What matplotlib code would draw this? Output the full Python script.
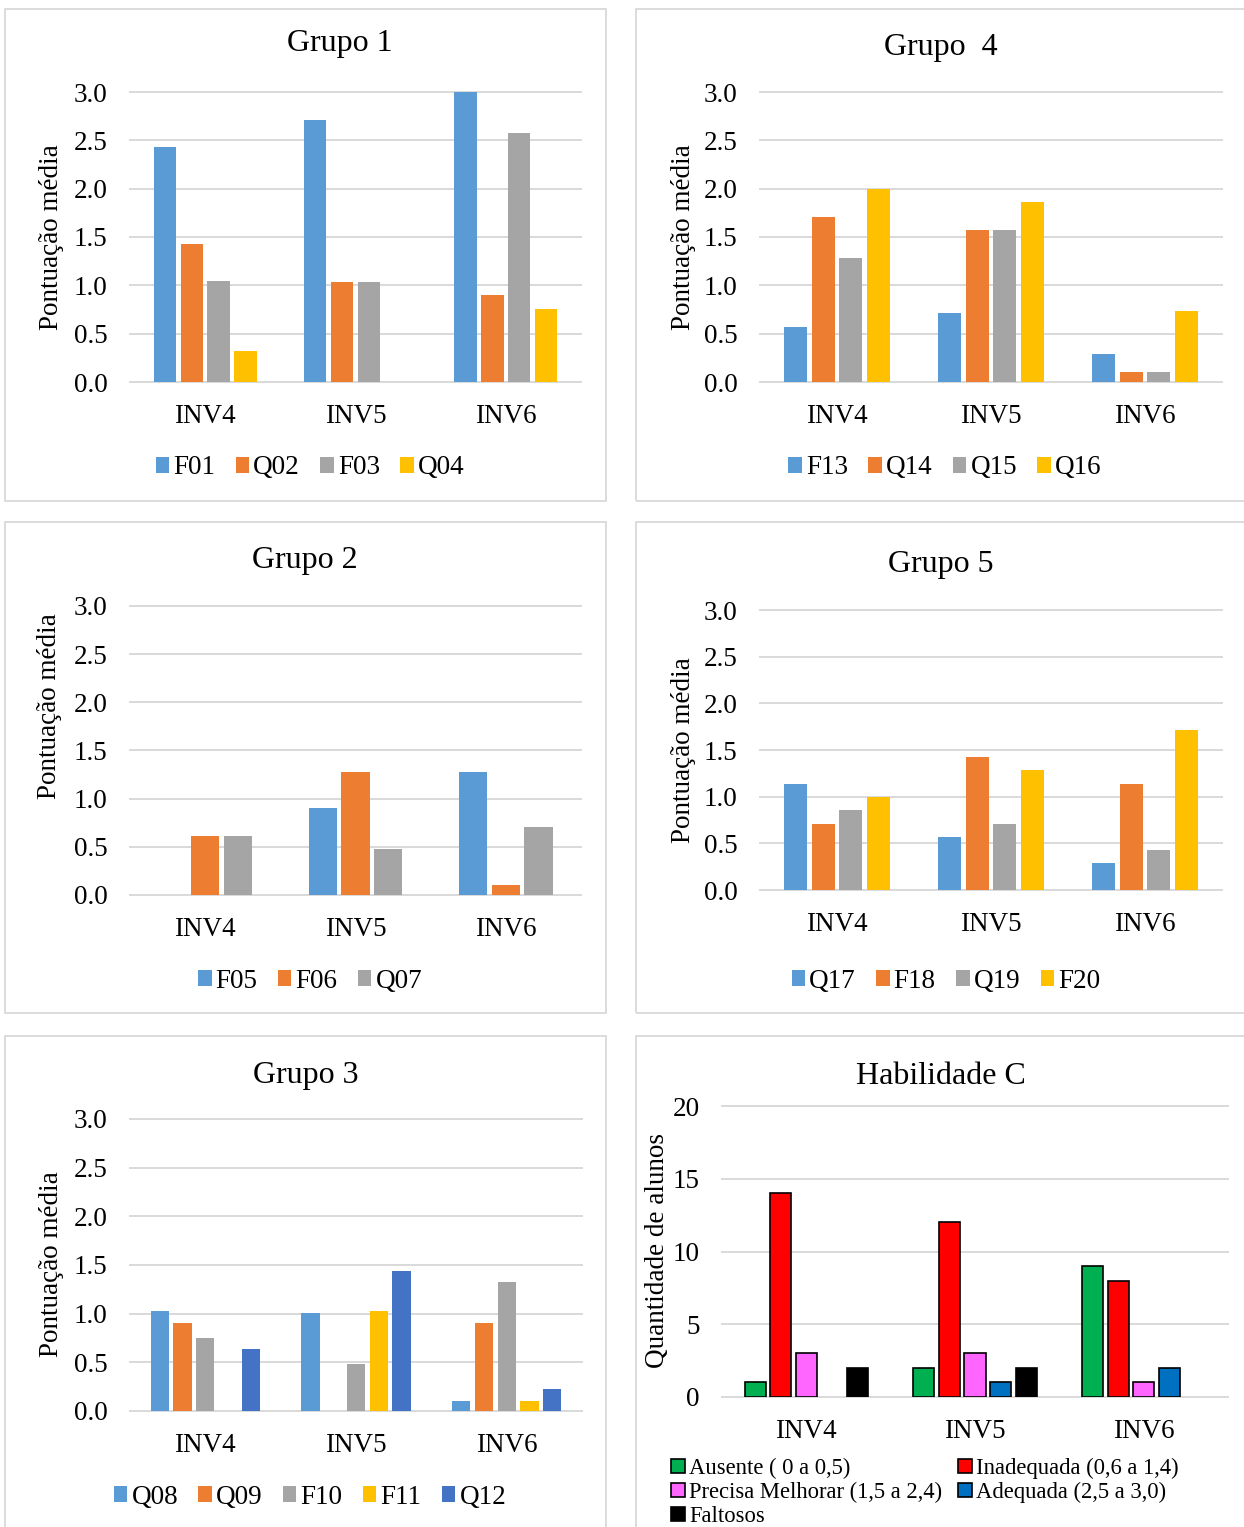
import numpy as np
import matplotlib
matplotlib.use("Agg")
import matplotlib.pyplot as plt
from matplotlib.patches import Rectangle

plt.rcParams['font.family'] = ['Liberation Serif', 'DejaVu Serif']

W, H = 1244, 1527
categories = ["INV4", "INV5", "INV6"]

# Grupo 1
g1_series = ["F01", "Q02", "F03", "Q04"]
g1_F01 = [2.43, 2.71, 3.00]
g1_Q02 = [1.43, 1.03, 0.90]
g1_F03 = [1.04, 1.03, 2.58]
g1_Q04 = [0.32, 0.00, 0.76]

# Grupo 2
g2_series = ["F05", "F06", "Q07"]
g2_F05 = [0.00, 0.90, 1.28]
g2_F06 = [0.61, 1.28, 0.10]
g2_Q07 = [0.61, 0.48, 0.71]

# Grupo 3
g3_series = ["Q08", "Q09", "F10", "F11", "Q12"]
g3_Q08 = [1.03, 1.01, 0.10]
g3_Q09 = [0.90, 0.00, 0.90]
g3_F10 = [0.75, 0.48, 1.33]
g3_F11 = [0.00, 1.03, 0.10]
g3_Q12 = [0.64, 1.44, 0.23]

# Grupo 4
g4_series = ["F13", "Q14", "Q15", "Q16"]
g4_F13 = [0.57, 0.71, 0.29]
g4_Q14 = [1.71, 1.57, 0.10]
g4_Q15 = [1.28, 1.57, 0.10]
g4_Q16 = [2.00, 1.86, 0.73]

# Grupo 5
g5_series = ["Q17", "F18", "Q19", "F20"]
g5_Q17 = [1.14, 0.57, 0.29]
g5_F18 = [0.71, 1.43, 1.14]
g5_Q19 = [0.86, 0.71, 0.43]
g5_F20 = [1.00, 1.29, 1.71]

# Habilidade C (quantidade de alunos)
hc_series = ["Ausente ( 0 a 0,5)", "Inadequada (0,6 a 1,4)",
             "Precisa Melhorar (1,5 a 2,4)", "Adequada (2,5 a 3,0)", "Faltosos"]
hc_ausente = [1, 2, 9]
hc_inadequada = [14, 12, 8]
hc_precisa = [3, 3, 1]
hc_adequada = [0, 1, 2]
hc_faltosos = [2, 2, 0]

office = ['#5B9BD5', '#ED7D31', '#A5A5A5', '#FFC000', '#4472C4']
hc_colors = ['#00B050', '#FF0000', '#FF66FF', '#0070C0', '#000000']

GRID = '#D9D9D9'
FS = 19.5
TITLE_FS = 23

fig = plt.figure(figsize=(W / 100, H / 100), dpi=100)


def frame(x0, y0, x1, y1):
    fig.add_artist(Rectangle((x0 / W, 1 - y1 / H), (x1 - x0) / W, (y1 - y0) / H,
                             transform=fig.transFigure, fill=False,
                             edgecolor=GRID, lw=1.3))


def panel(L, R, T, B, title, tpos, names, values, colors, ymax, yticks,
          fmt, ylabel, ypos, legpos, hc=False):
    ax = fig.add_axes([L / W, 1 - B / H, (R - L) / W, (B - T) / H])
    n = len(names)
    x = np.arange(len(categories))
    cat_px = (R - L) / len(categories)
    pitch = 1.0 / (n + 1.6)
    width = pitch - 4.5 / cat_px
    for i, (name, vals, c) in enumerate(zip(names, values, colors)):
        vals = np.asarray(vals, dtype=float)
        keep = vals > 0
        off = (i - (n - 1) / 2) * pitch
        if hc:
            ax.bar(x[keep] + off, vals[keep], width, color=c,
                   edgecolor='black', linewidth=1.2, label=name)
        else:
            ax.bar(x[keep] + off, vals[keep], width, color=c,
                   linewidth=0, label=name)
    ax.set_xlim(-0.5, len(categories) - 0.5)
    ax.set_ylim(0, ymax)
    ax.set_yticks(yticks)
    ax.set_yticklabels([fmt.format(v) for v in yticks])
    ax.set_xticks(x)
    ax.set_xticklabels(categories)
    for s in ax.spines.values():
        s.set_visible(False)
    ax.yaxis.grid(True, color=GRID, lw=1.4)
    for gl in ax.get_ygridlines():
        gl.set_clip_on(False)
    ax.set_axisbelow(True)
    ax.tick_params(axis='y', length=0, pad=16, labelsize=FS)
    ax.tick_params(axis='x', length=0, pad=16, labelsize=FS)
    fig.text(tpos[0] / W, 1 - (tpos[1] + 3) / H, title, ha='center',
             va='center', fontsize=TITLE_FS)
    fig.text(ypos[0] / W, 1 - ypos[1] / H, ylabel, ha='center', va='center',
             rotation=90, fontsize=FS)
    handles, labels = ax.get_legend_handles_labels()
    if hc:
        order = [0, 2, 4, 1, 3]
        handles = [handles[k] for k in order]
        labels = [labels[k] for k in order]
        fig.legend(handles, labels, loc='upper left',
                   bbox_to_anchor=(legpos[0] / W, 1 - legpos[1] / H),
                   bbox_transform=fig.transFigure, ncol=2, frameon=False,
                   fontsize=16.3, handlelength=0.6, handleheight=0.6,
                   handletextpad=0.2, columnspacing=0.7, labelspacing=0.12,
                   borderpad=0, borderaxespad=0)
    else:
        fig.legend(handles, labels, loc='center',
                   bbox_to_anchor=(legpos[0] / W, 1 - (legpos[1] + 3) / H),
                   bbox_transform=fig.transFigure, ncol=n, frameon=False,
                   fontsize=FS, handlelength=0.5, handleheight=0.5,
                   handletextpad=0.15, columnspacing=0.75,
                   borderpad=0, borderaxespad=0)
    return ax


# panel frames
frame(5, 9, 606, 501)
frame(636, 9, 1252, 501)
frame(5, 522, 606, 1013)
frame(636, 522, 1252, 1013)
frame(5, 1036, 606, 1535)
frame(636, 1036, 1252, 1535)

t3 = [0.0, 0.5, 1.0, 1.5, 2.0, 2.5, 3.0]
yl = "Pontuação média"

panel(130, 581, 92, 382, "Grupo 1", (340, 40), g1_series,
      [g1_F01, g1_Q02, g1_F03, g1_Q04], office[:4], 3, t3, "{:.1f}",
      yl, (52, 237), (310, 465))
panel(760, 1222, 92, 382, "Grupo  4", (941, 45), g4_series,
      [g4_F13, g4_Q14, g4_Q15, g4_Q16], office[:4], 3, t3, "{:.1f}",
      yl, (683, 237), (945, 465))
panel(130, 581, 606, 895, "Grupo 2", (305, 558), g2_series,
      [g2_F05, g2_F06, g2_Q07], office[:3], 3, t3, "{:.1f}",
      yl, (50, 706), (310, 978))
panel(760, 1222, 610, 890, "Grupo 5", (941, 562), g5_series,
      [g5_Q17, g5_F18, g5_Q19, g5_F20], office[:4], 3, t3, "{:.1f}",
      yl, (683, 750), (946, 978))
panel(130, 582, 1119, 1411, "Grupo 3", (306, 1073), g3_series,
      [g3_Q08, g3_Q09, g3_F10, g3_F11, g3_Q12], office[:5], 3, t3, "{:.1f}",
      yl, (52, 1264), (310, 1494))
panel(722, 1228, 1106, 1397, "Habilidade C", (941, 1073), hc_series,
      [hc_ausente, hc_inadequada, hc_precisa, hc_adequada, hc_faltosos],
      hc_colors, 20, [0, 5, 10, 15, 20], "{:d}",
      "Quantidade de alunos", (657, 1251), (671, 1458), hc=True)

fig.savefig("out.png", dpi=100, facecolor='white')
